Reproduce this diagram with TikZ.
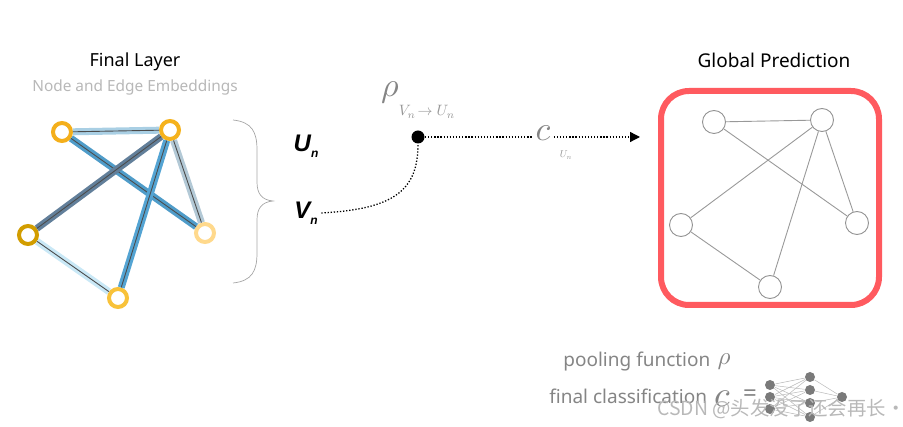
\documentclass[tikz,border=0pt]{standalone}
\usepackage{graphicx}
\usepackage{fontspec}
\setmainfont{Noto Sans}
\newfontfamily\cjkfont{Noto Sans CJK SC}
\newfontfamily\embfont{Liberation Sans}
\usetikzlibrary{arrows.meta, positioning}
\definecolor{ringA}{HTML}{F4AF1B}
\definecolor{ringB}{HTML}{F5B21C}
\definecolor{ringC}{HTML}{D29D00}
\definecolor{ringD}{HTML}{FFD98C}
\definecolor{ringE}{HTML}{F8C23A}
\definecolor{embAB}{HTML}{A9CFE4}
\definecolor{embAD}{HTML}{4F9CC9}
\definecolor{embBC}{HTML}{627F9A}
\definecolor{embBE}{HTML}{54A4D3}
\definecolor{embBD}{HTML}{B3C9D6}
\definecolor{embCE}{HTML}{C9E8F6}
\definecolor{boxred}{HTML}{FF5A5F}
\definecolor{txtgray}{HTML}{858585}
\definecolor{netgray}{HTML}{7A7A7A}
\newcommand{\Emb}[2]{{\embfont\bfseries\itshape #1\raisebox{-0.45ex}{\fontsize{12}{12}\selectfont #2}}}
\newcommand{\Mth}[2]{\scalebox{#1}{\fontsize{10}{10}\selectfont$#2$}}
\tikzset{
  every picture/.style={line width=0.8pt},
  vert/.style={draw=#1, circle, line width=4pt, minimum size=18pt, inner sep=0pt, fill=white},
  gvert/.style={draw=gray!85, circle, line width=0.9pt, minimum size=23pt, inner sep=0pt, fill=white},
  emb/.style={draw=black!70, line width=0.9pt, preaction={draw=#1, line width=7pt}},
  gedge/.style={draw=gray!80, line width=0.9pt},
  nvert/.style={circle, fill=netgray, minimum size=10pt, inner sep=0pt},
  nedge/.style={draw=gray!55, line width=0.5pt},
  dots/.style={line width=1.3pt, dash pattern=on 1.3pt off 1.8pt},
  every node/.style={font=\fontsize{19}{19}\selectfont}
}
\begin{document}
\begin{tikzpicture}[x=1pt, y=-1pt]
  \useasboundingbox (0,0) rectangle (903,427);

  \node (title1) at (135,62) {\fontsize{18}{18}\selectfont Final Layer};
  \node [text=black!28] (sub1) at (135,88) {\fontsize{15.4}{15.4}\selectfont Node and Edge Embeddings};
  \node (title2) at (774,60) {Global Prediction};

  \node [vert=ringA] (l1) at (62,132) {};
  \node [vert=ringB] (l2) at (170,130) {};
  \node [vert=ringC] (l3) at (28,235) {};
  \node [vert=ringD] (l4) at (205,233) {};
  \node [vert=ringE] (l5) at (118,298) {};

  \draw[emb=embAB] (l1) -- (l2);
  \draw[emb=embAD] (l1) -- (l4);
  \draw[emb=embBC] (l2) -- (l3);
  \draw[emb=embBE] (l2) -- (l5);
  \draw[emb=embBD] (l2) -- (l4);
  \draw[emb=embCE] (l3) -- (l5);

  \draw[gray!70, line width=0.7pt] (233,120) .. controls (252,122) and (257,132) .. (257,150)
    -- (257,182) .. controls (257,194) and (262,200) .. (273,201)
    .. controls (262,202) and (257,208) .. (257,220)
    -- (257,253) .. controls (257,271) and (252,281) .. (233,283);

  \node (un) at (306,146) {\fontsize{24}{24}\selectfont\Emb{U}{n}};
  \node (vn) at (306,213) {\fontsize{24}{24}\selectfont\Emb{V}{n}};

  \node [circle, fill=black, minimum size=13pt, inner sep=0pt] (dot) at (418,137) {};
  \node [text=txtgray, inner sep=0pt] (rho) at (390,92) {\Mth{3.4}{\rho}};
  \node [text=txtgray!85, inner sep=0pt] (rhosub) at (427,112) {\Mth{1.5}{V_n\!\rightarrow U_n}};
  \node [text=txtgray, inner sep=3pt] (c) at (543,133) {\Mth{3.4}{c}};
  \node [text=txtgray!85, inner sep=0pt] (csub) at (566,155) {\Mth{1.0}{U_n}};
  \coordinate (tip) at (640,137);

  \draw[dots] (vn.east) .. controls (395,209) and (418,190) .. (dot.south);
  \draw[dots] (dot.east) -- (c.west |- dot.east);
  \draw[dots, -{Triangle[length=10pt, width=10pt]}] (c.east |- dot.east) -- (tip);

  \node [draw=boxred, line width=6pt, rounded corners=28pt, minimum width=218pt, minimum height=214pt] (box) at (770,198) {};

  \node [gvert] (r1) at (714,122) {};
  \node [gvert] (r2) at (822,120) {};
  \node [gvert] (r3) at (681,225) {};
  \node [gvert] (r4) at (857,223) {};
  \node [gvert] (r5) at (770,287) {};

  \draw[gedge] (r1) -- (r2);
  \draw[gedge] (r1) -- (r4);
  \draw[gedge] (r2) -- (r3);
  \draw[gedge] (r2) -- (r5);
  \draw[gedge] (r2) -- (r4);
  \draw[gedge] (r3) -- (r5);

  \node [text=txtgray, anchor=base west, inner sep=0pt] (pool) at (563,367) {pooling function};
  \node [text=txtgray, inner sep=0pt] (poolrho) at (724,362) {\Mth{2.5}{\rho}};
  \node [text=txtgray, anchor=base west, inner sep=0pt] (cls) at (549,404) {final classification};
  \node [text=txtgray, inner sep=0pt] (clsc) at (722,399) {\Mth{3.6}{c}};
  \node [text=txtgray, inner sep=0pt] (clseq) at (750,396) {\fontsize{24}{24}\selectfont=};

  \node [nvert] (i1) at (770,385) {};
  \node [nvert] (i2) at (770,397) {};
  \node [nvert] (i3) at (770,409) {};
  \node [nvert] (h1) at (810,377) {};
  \node [nvert] (h2) at (810,390) {};
  \node [nvert] (h3) at (810,403) {};
  \node [nvert] (h4) at (810,417) {};
  \node [nvert] (o1) at (842,397) {};
  \foreach \i in {1,2,3}
    \foreach \h in {1,2,3,4}
      \draw[nedge] (i\i) -- (h\h);
  \foreach \h in {1,2,3,4}
    \draw[nedge] (h\h) -- (o1);

  \node [text=black!28, anchor=west, inner sep=0pt] (mark) at (657,409) {\cjkfont\fontsize{19.4}{19.4}\selectfont CSDN @头发没了还会再长·};
\end{tikzpicture}
\end{document}
